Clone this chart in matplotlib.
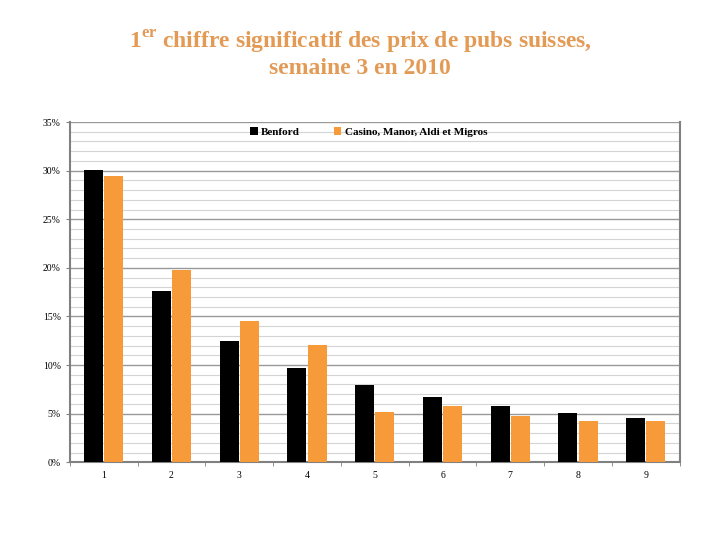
import numpy as np
import matplotlib.pyplot as plt
from matplotlib.ticker import MultipleLocator, FuncFormatter

# Data (percent)
digits = ['1', '2', '3', '4', '5', '6', '7', '8', '9']
benford = [30.1, 17.6, 12.5, 9.7, 7.9, 6.7, 5.8, 5.1, 4.6]
magasins = [29.4, 19.8, 14.5, 12.1, 5.2, 5.8, 4.8, 4.2, 4.2]

plt.rcParams['font.family'] = ['Liberation Serif', 'DejaVu Serif']
plt.rcParams['mathtext.fontset'] = 'custom'
plt.rcParams['mathtext.rm'] = 'Liberation Serif'
plt.rcParams['mathtext.bf'] = 'Liberation Serif:bold'

fig = plt.figure(figsize=(7.2, 5.4), dpi=100)
ax = fig.add_axes([0.097, 0.144, 0.847, 0.630])

x = np.arange(1, len(digits) + 1)
w = 0.28
ax.bar(x - 0.15, benford, w, color='black', label='Benford', zorder=3)
ax.bar(x + 0.15, magasins, w, color='#F79A3A', label='Casino, Manor, Aldi et Migros', zorder=3)

ax.set_xlim(0.5, 9.5)
ax.set_ylim(0, 35)
ax.yaxis.set_major_locator(MultipleLocator(5))
ax.yaxis.set_minor_locator(MultipleLocator(1))
ax.yaxis.set_major_formatter(FuncFormatter(lambda v, p: f"{v:.0f}%"))
ax.grid(axis='y', which='major', color='#999999', lw=1, zorder=0)
ax.grid(axis='y', which='minor', color='#d4d4d4', lw=0.8, zorder=0)

ax.set_xticks(x)
ax.set_xticklabels(digits)
ax.set_xticks(np.arange(0.5, 10, 1), minor=True)
ax.tick_params(axis='x', which='major', length=0, labelsize=7, pad=6)
ax.tick_params(axis='x', which='minor', length=3, color='#808080', direction='out')
ax.tick_params(axis='y', which='major', length=3, color='#808080', labelsize=7)
ax.tick_params(axis='y', which='minor', length=0)

for s in ['left', 'bottom', 'right']:
    ax.spines[s].set_color('#808080')
    ax.spines[s].set_linewidth(1.5)
ax.spines['top'].set_visible(False)

ax.legend(loc='upper center', bbox_to_anchor=(0.49, 1.015), ncol=2, frameon=False,
          prop={'weight': 'bold', 'size': 8}, handlelength=0.7, handleheight=0.7,
          handletextpad=0.3, columnspacing=3)

fig.text(0.5, 0.922, "1$^{\\mathbf{er}}$ chiffre significatif des prix de pubs suisses,",
         ha='center', va='center', fontsize=17, fontweight='bold', color='#E39A55')
fig.text(0.5, 0.873, "semaine 3 en 2010", ha='center', va='center',
         fontsize=17, fontweight='bold', color='#E39A55')

fig.savefig('out.png', dpi=100)
